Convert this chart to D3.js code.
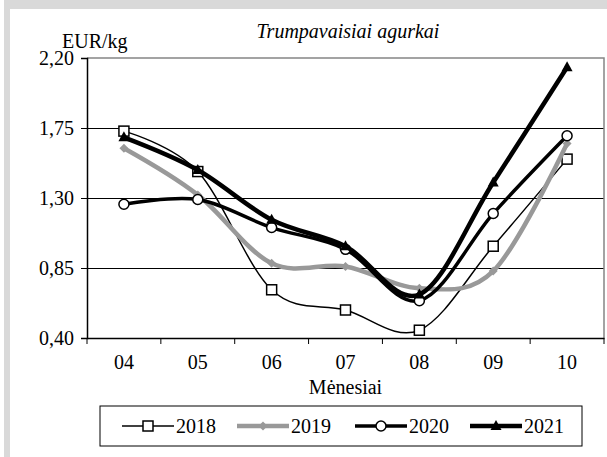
<!DOCTYPE html>
<html>
<head>
<meta charset="utf-8">
<script src="https://cdn.jsdelivr.net/npm/d3@7"></script>
<style>
  body { margin: 0; background: #fff; }
</style>
</head>
<body>
<div id="chart"></div>
<script>
// Data
var months = ["04", "05", "06", "07", "08", "09", "10"];
var years = ["2018", "2019", "2020", "2021"];
var y2018 = [1.73, 1.47, 0.71, 0.58, 0.45, 0.99, 1.55];
var y2019 = [1.62, 1.32, 0.88, 0.86, 0.72, 0.83, 1.65];
var y2020 = [1.26, 1.29, 1.11, 0.97, 0.64, 1.20, 1.70];
var y2021 = [1.69, 1.48, 1.16, 0.99, 0.68, 1.40, 2.14];
var yTicks = [0.40, 0.85, 1.30, 1.75, 2.20];

var title = "Trumpavaisiai agurkai";
var yLabel = "EUR/kg";
var xLabel = "Mėnesiai";

// Series styles
var styles = [
  {values: y2018, color: "#000", width: 1.5, marker: "square"},
  {values: y2019, color: "#999", width: 4.5, marker: "diamond"},
  {values: y2020, color: "#000", width: 3.5, marker: "circle"},
  {values: y2021, color: "#000", width: 4.5, marker: "triangle"}
];

// Dimensions
var W = 607, H = 457;
var plot = {left: 87, right: 604, top: 58, bottom: 338};
var fontSize = 20;
var serif = "Liberation Serif";

var svg = d3.select("#chart").append("svg")
    .attr("width", W)
    .attr("height", H)
    .attr("font-family", serif);

// outer frame
svg.append("rect").attr("x", 0).attr("y", 0).attr("width", W).attr("height", H).attr("fill", "#fff");
svg.append("rect").attr("x", 4).attr("y", 0).attr("width", W - 4).attr("height", 9).attr("fill", "#d9d9d9");
svg.append("rect").attr("x", 4).attr("y", 0).attr("width", 6).attr("height", H).attr("fill", "#d9d9d9");

//---------------------------------------Scales---------------------------------------
var x = d3.scaleBand()
    .domain(months)
    .range([plot.left, plot.right]);

var y = d3.scaleLinear()
    .domain([0.40, 2.20])
    .range([plot.bottom, plot.top]);

var fmt = function(d) { return d3.format(".2f")(d).replace(".", ","); };

// gridlines
svg.append("g")
    .attr("shape-rendering", "crispEdges")
  .selectAll("line")
  .data(yTicks.slice(1, -1))
  .enter().append("line")
    .attr("x1", plot.left).attr("x2", plot.right)
    .attr("y1", function(d) { return y(d); })
    .attr("y2", function(d) { return y(d); })
    .attr("stroke", "#000")
    .attr("stroke-width", 1);

// top and right border
svg.append("path")
    .attr("d", "M" + plot.left + "," + y(2.20) + "H" + plot.right + "V" + plot.bottom)
    .attr("fill", "none")
    .attr("stroke", "#858585")
    .attr("stroke-width", 1.5);

// y axis
var gy = svg.append("g")
    .attr("transform", "translate(" + plot.left + ",0)")
    .call(d3.axisLeft(y).tickValues(yTicks).tickFormat(fmt).tickSize(6).tickPadding(7));
gy.attr("font-family", serif).attr("font-size", fontSize);
gy.select(".domain").attr("stroke", "#000").attr("stroke-width", 1.5);
gy.selectAll(".tick line").attr("stroke", "#000");
gy.selectAll("text").attr("fill", "#000");

// x axis
var gx = svg.append("g")
    .attr("transform", "translate(0," + plot.bottom + ")")
    .call(d3.axisBottom(x).tickSize(0).tickPadding(17));
gx.attr("font-family", serif).attr("font-size", fontSize);
gx.select(".domain").attr("stroke", "#000").attr("stroke-width", 1.5);
gx.selectAll("text").attr("fill", "#000");

// category boundary ticks
gx.selectAll(".bound")
  .data(months.map(function(m) { return x(m); }).concat([x(months[months.length - 1]) + x.bandwidth()]))
  .enter().append("line")
    .attr("class", "bound")
    .attr("x1", function(d) { return d; }).attr("x2", function(d) { return d; })
    .attr("y1", 0).attr("y2", 6)
    .attr("stroke", "#000");

// labels
svg.append("text")
    .attr("x", 348).attr("y", 38)
    .attr("text-anchor", "middle")
    .attr("font-size", fontSize)
    .attr("font-style", "italic")
    .text(title);

svg.append("text")
    .attr("x", 62).attr("y", 48)
    .attr("font-size", fontSize)
    .text(yLabel);

svg.append("text")
    .attr("x", (plot.left + plot.right) / 2).attr("y", 394)
    .attr("text-anchor", "middle")
    .attr("font-size", fontSize)
    .text(xLabel);

//---------------------------------------Series---------------------------------------
var line = d3.line()
    .x(function(d, i) { return x(months[i]) + x.bandwidth() / 2; })
    .y(function(d) { return y(d); })
    .curve(d3.curveCatmullRom.alpha(0));

function drawMarker(g, type, cx, cy, color) {
  if (type === "square") {
    g.append("rect")
      .attr("x", cx - 5).attr("y", cy - 5).attr("width", 10).attr("height", 10)
      .attr("fill", "#fff").attr("stroke", "#000").attr("stroke-width", 1.5);
  } else if (type === "diamond") {
    g.append("path")
      .attr("d", "M" + cx + "," + (cy - 4.5) + "L" + (cx + 4.5) + "," + cy + "L" + cx + "," + (cy + 4.5) + "L" + (cx - 4.5) + "," + cy + "Z")
      .attr("fill", color);
  } else if (type === "circle") {
    g.append("circle")
      .attr("cx", cx).attr("cy", cy).attr("r", 5)
      .attr("fill", "#fff").attr("stroke", "#000").attr("stroke-width", 1.5);
  } else if (type === "triangle") {
    g.append("path")
      .attr("d", "M" + cx + "," + (cy - 6) + "L" + (cx + 5.5) + "," + (cy + 4) + "L" + (cx - 5.5) + "," + (cy + 4) + "Z")
      .attr("fill", "#000");
  }
}

styles.forEach(function(s) {
  var g = svg.append("g");
  g.append("path")
      .datum(s.values)
      .attr("d", line)
      .attr("fill", "none")
      .attr("stroke", s.color)
      .attr("stroke-width", s.width)
      .attr("stroke-linejoin", "round");
  s.values.forEach(function(v, i) {
    drawMarker(g, s.marker, x(months[i]) + x.bandwidth() / 2, y(v), s.color);
  });
});

//---------------------------------------Legend---------------------------------------
var legendBox = {x: 100, y: 406, width: 482, height: 40};
svg.append("rect")
    .attr("x", legendBox.x).attr("y", legendBox.y)
    .attr("width", legendBox.width).attr("height", legendBox.height)
    .attr("fill", "#fff").attr("stroke", "#000").attr("stroke-width", 1);

var legendX = [122, 237, 355, 470];
years.forEach(function(yr, i) {
  var g = svg.append("g").attr("transform", "translate(" + legendX[i] + "," + (legendBox.y + legendBox.height / 2) + ")");
  g.append("line")
    .attr("x1", 0).attr("x2", 52).attr("y1", 0).attr("y2", 0)
    .attr("stroke", styles[i].color).attr("stroke-width", styles[i].width);
  drawMarker(g, styles[i].marker, 26, 0, styles[i].color);
  g.append("text")
    .attr("x", 54).attr("y", 7)
    .attr("font-size", fontSize)
    .text(yr);
});
</script>
</body>
</html>
